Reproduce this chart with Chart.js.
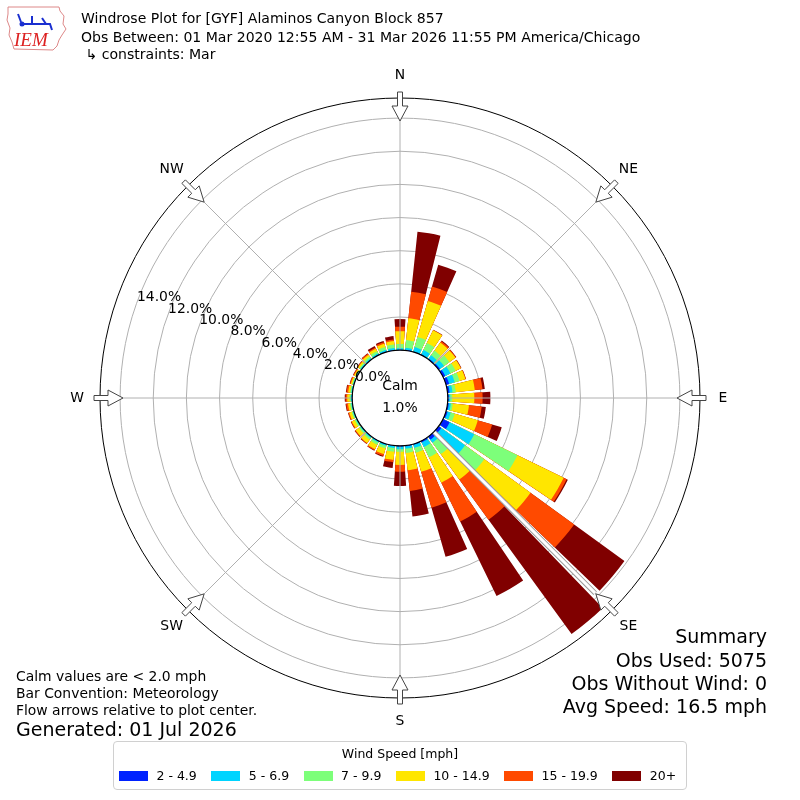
<!DOCTYPE html>
<html>
<head>
<meta charset="utf-8">
<script src="https://cdn.jsdelivr.net/npm/chart.js@4.4.1/dist/chart.umd.min.js"></script>
<style>
  html, body { margin: 0; padding: 0; background: #fff; }
  #wrap { position: relative; width: 800px; height: 800px; overflow: hidden;
          font-family: "DejaVu Sans", sans-serif; color: #000; }
  #rose { position: absolute; left: 0; top: 0; }
  .t { position: absolute; white-space: pre; line-height: 1; }
  #legend { position: absolute; left: 113px; top: 741px; width: 572px; height: 47px;
            border: 1px solid #d0d0d0; border-radius: 4px; background: #fff; }
  #legend .ttl { position: absolute; left: 0; right: 0; top: 4px; text-align: center; font-size: 12.5px; }
  #legend .row { position: absolute; left: 5px; top: 26px; width: 600px; display: flex; align-items: center;
                 font-size: 12.5px; white-space: nowrap; }
  #legend .sw { flex: 0 0 auto; width: 29px; height: 10px; margin-right: 8.5px; }
  #legend .lb { flex: 0 0 auto; margin-right: 14.5px; }
</style>
</head>
<body>
<div id="wrap">
  <canvas id="rose" width="800" height="800"></canvas>

  <svg style="position:absolute;left:2px;top:2px" width="66" height="50" viewBox="0 0 66 50">
    <path d="M6 5 L57 5 L58 9 L62 14 L61 22 L64 27 L60 33 L57 38 L55 44 L51 48 L12 47 L10 40 L7 33 L8 26 L5 18 L6 12 Z"
          fill="none" stroke="#d88" stroke-width="1"/>
    <g stroke="#1a2fd0" stroke-width="2" fill="none">
      <path d="M20 22 L48 22 L50 28"/>
      <path d="M30 14 L30 22"/>
      <path d="M40 16 L44 22"/>
      <path d="M16 12 L19 20"/>
    </g>
    <circle cx="20" cy="22" r="2.5" fill="#1a2fd0"/>
    <text x="12" y="44" font-family="Liberation Serif, serif" font-style="italic" font-size="19" fill="#d22">IEM</text>
  </svg>

  <div class="t" style="left:81px;top:11px;font-size:14.05px">Windrose Plot for [GYF] Alaminos Canyon Block 857</div>
  <div class="t" style="left:81px;top:30px;font-size:14.05px">Obs Between: 01 Mar 2020 12:55 AM - 31 Mar 2026 11:55 PM America/Chicago</div>
  <div class="t" style="left:81px;top:47px;font-size:14.05px"> ↳ constraints: Mar</div>

  <div class="t" style="left:16px;top:670px;font-size:13.9px">Calm values are &lt; 2.0 mph</div>
  <div class="t" style="left:16px;top:687px;font-size:13.9px">Bar Convention: Meteorology</div>
  <div class="t" style="left:16px;top:704px;font-size:13.9px">Flow arrows relative to plot center.</div>
  <div class="t" style="left:16px;top:720px;font-size:19px">Generated: 01 Jul 2026</div>

  <div class="t" style="right:33px;top:627px;font-size:19px;text-align:right">Summary</div>
  <div class="t" style="right:33px;top:651px;font-size:19px;text-align:right">Obs Used: 5075</div>
  <div class="t" style="right:33px;top:674px;font-size:19px;text-align:right">Obs Without Wind: 0</div>
  <div class="t" style="right:33px;top:697px;font-size:19px;text-align:right">Avg Speed: 16.5 mph</div>

  <div id="legend">
    <div class="ttl">Wind Speed [mph]</div>
    <div class="row" id="legendRow"></div>
  </div>
</div>

<script>
// wind directions (degrees, meteorological "from")
const directions = [0, 10, 20, 30, 40, 50, 60, 70, 80, 90, 100, 110, 120, 130, 140, 150, 160, 170,
                    180, 190, 200, 210, 220, 230, 240, 250, 260, 270, 280, 290, 300, 310, 320, 330, 340, 350];
const speedBins = ["2 - 4.9", "5 - 6.9", "7 - 9.9", "10 - 14.9", "15 - 19.9", "20+"];

// percent of observations per direction, one list per speed bin
const pct2to5 = [0.02, 0.04, 0.03, 0.05, 0.06, 0.10, 0.15, 0.20, 0.12, 0.06, 0.08, 0.10, 0.45, 0.20, 0.22, 0.10, 0.05, 0.05,
                 0.05, 0.03, 0.03, 0.03, 0.03, 0.02, 0.02, 0.02, 0.02, 0.02, 0.02, 0.02, 0.02, 0.02, 0.03, 0.03, 0.03, 0.03];
const pct5to7 = [0.10, 0.12, 0.28, 0.29, 0.24, 0.30, 0.35, 0.35, 0.18, 0.09, 0.12, 0.20, 1.65, 1.77, 0.23, 0.30, 0.20, 0.15,
                 0.16, 0.12, 0.09, 0.07, 0.07, 0.06, 0.05, 0.05, 0.05, 0.06, 0.05, 0.04, 0.04, 0.06, 0.07, 0.09, 0.11, 0.12];
const pct7to10 = [0.26, 0.47, 0.64, 0.47, 0.35, 0.40, 0.35, 0.30, 0.20, 0.12, 0.12, 0.25, 2.90, 1.43, 0.85, 0.70, 0.30, 0.25,
                  0.15, 0.23, 0.16, 0.15, 0.12, 0.10, 0.09, 0.08, 0.08, 0.08, 0.07, 0.06, 0.06, 0.08, 0.12, 0.14, 0.18, 0.21];
const pct10to15 = [0.77, 1.32, 2.25, 0.85, 0.60, 0.45, 0.35, 0.37, 1.15, 1.33, 0.98, 1.45, 3.10, 3.45, 1.90, 1.70, 1.20, 1.05,
                   0.80, 0.49, 0.35, 0.30, 0.26, 0.24, 0.19, 0.15, 0.12, 0.14, 0.12, 0.08, 0.08, 0.10, 0.13, 0.16, 0.20, 0.21];
const pct15to20 = [0.27, 1.61, 0.91, 0.02, 0.10, 0.05, 0.02, 0.03, 0.47, 0.50, 0.77, 0.90, 0.20, 3.25, 3.00, 2.60, 2.25, 1.25,
                   0.40, 0.14, 0.12, 0.07, 0.04, 0.05, 0.05, 0.06, 0.11, 0.10, 0.10, 0.06, 0.05, 0.04, 0.07, 0.08, 0.10, 0.10];
const pct20up = [0.46, 3.64, 1.37, 0.02, 0.05, 0.02, 0.02, 0.01, 0.14, 0.47, 0.25, 0.60, 0.08, 3.75, 8.52, 5.00, 3.08, 1.55,
                 0.86, 0.35, 0.05, 0.03, 0.03, 0.03, 0.02, 0.02, 0.04, 0.05, 0.04, 0.02, 0.02, 0.02, 0.03, 0.10, 0.07, 0.20];

const tickValues = [0, 2, 4, 6, 8, 10, 12, 14];
const compassLabels = ["N", "NE", "E", "SE", "S", "SW", "W", "NW"];
const calmText = "1.0%";

// styling
const binColors = ["#0022ff", "#00d4ff", "#7dff7a", "#ffe600", "#ff4a00", "#800000"];
const barDeg = 8, gapDeg = 2;
const calmPx = 47.8, pxPerPct = 16.58, plotRadius = 300;

const binSeries = [pct2to5, pct5to7, pct7to10, pct10to15, pct15to20, pct20up];

// legend
const legendRow = document.getElementById("legendRow");
speedBins.forEach((name, i) => {
  const sw = document.createElement("span");
  sw.className = "sw";
  sw.style.background = binColors[i];
  const lb = document.createElement("span");
  lb.className = "lb";
  lb.textContent = name;
  legendRow.appendChild(sw);
  legendRow.appendChild(lb);
});

// each bar slot is followed by a transparent gap slot
const labels = [];
directions.forEach((d) => { labels.push(d + "°", ""); });

// stacked look: draw cumulative sums, smallest bin on top
const datasets = binSeries.map((series, b) => {
  const data = [];
  directions.forEach((d, i) => {
    let sum = 0;
    for (let k = 0; k <= b; k++) sum += binSeries[k][i];
    data.push(+sum.toFixed(3), 0);
  });
  return {
    label: speedBins[b],
    data,
    backgroundColor: (c) => (c.dataIndex % 2 ? "rgba(0,0,0,0)" : binColors[b]),
    borderWidth: 0,
    angle: (c) => (c.dataIndex % 2 ? gapDeg : barDeg),
  };
});

const rMin = -calmPx / pxPerPct;
const rMax = (plotRadius - calmPx) / pxPerPct;

const roseDecor = {
  id: "roseDecor",
  afterDraw(chart) {
    const s = chart.scales.r;
    const ctx = chart.ctx;
    const cx = s.xCenter, cy = s.yCenter;
    const rIn = s.getDistanceFromCenterForValue(0);
    const rOut = s.drawingArea;
    const pt = (deg, r, p = 0) => {
      const a = deg * Math.PI / 180;
      return [cx + r * Math.sin(a) + p * Math.cos(a), cy - r * Math.cos(a) + p * Math.sin(a)];
    };
    ctx.save();

    // spokes every 45 degrees
    ctx.strokeStyle = "#b0b0b0";
    ctx.lineWidth = 1;
    for (let k = 0; k < 8; k++) {
      const a = pt(k * 45, rIn), b = pt(k * 45, rOut);
      ctx.beginPath(); ctx.moveTo(a[0], a[1]); ctx.lineTo(b[0], b[1]); ctx.stroke();
    }
    // hollow strip along SE
    {
      const a = pt(135, rIn), b = pt(135, rOut - 24);
      ctx.lineWidth = 5; ctx.strokeStyle = "#9a9a9a";
      ctx.beginPath(); ctx.moveTo(a[0], a[1]); ctx.lineTo(b[0], b[1]); ctx.stroke();
      ctx.lineWidth = 3; ctx.strokeStyle = "#ffffff";
      ctx.beginPath(); ctx.moveTo(a[0], a[1]); ctx.lineTo(b[0], b[1]); ctx.stroke();
    }

    // outer frame
    ctx.strokeStyle = "#000"; ctx.lineWidth = 1;
    ctx.beginPath(); ctx.arc(cx, cy, rOut, 0, Math.PI * 2); ctx.stroke();

    // calm disk
    ctx.fillStyle = "#fff";
    ctx.beginPath(); ctx.arc(cx, cy, rIn, 0, Math.PI * 2); ctx.fill();
    ctx.strokeStyle = "#000"; ctx.lineWidth = 1.2; ctx.stroke();

    // compass arrows pointing inward
    for (let k = 0; k < 8; k++) {
      const d = k * 45;
      const poly = [[rOut - 23, 0], [rOut - 8, 8], [rOut - 8, 2.5], [rOut + 6, 2.5],
                    [rOut + 6, -2.5], [rOut - 8, -2.5], [rOut - 8, -8]];
      ctx.beginPath();
      poly.forEach(([r, p], j) => {
        const q = pt(d, r, p);
        if (j === 0) ctx.moveTo(q[0], q[1]); else ctx.lineTo(q[0], q[1]);
      });
      ctx.closePath();
      ctx.fillStyle = "#fff"; ctx.fill();
      ctx.strokeStyle = "#444"; ctx.lineWidth = 1; ctx.stroke();
    }

    // compass labels
    ctx.fillStyle = "#000";
    ctx.font = '13.9px "DejaVu Sans"';
    ctx.textAlign = "center"; ctx.textBaseline = "middle";
    compassLabels.forEach((lab, k) => {
      const q = pt(k * 45, rOut + 23);
      ctx.fillText(lab, q[0], q[1]);
    });

    // radial tick labels
    ctx.textAlign = "left"; ctx.textBaseline = "alphabetic";
    tickValues.forEach((v) => {
      const q = pt(290, s.getDistanceFromCenterForValue(v));
      ctx.fillText(v.toFixed(1) + "%", q[0], q[1] - 1);
    });

    // calm text
    ctx.textAlign = "center"; ctx.textBaseline = "middle";
    ctx.fillText("Calm", cx, cy - 12);
    ctx.fillText(calmText, cx, cy + 10);

    ctx.restore();
  },
};

new Chart(document.getElementById("rose"), {
  type: "polarArea",
  data: { labels, datasets },
  options: {
    responsive: false,
    animation: false,
    devicePixelRatio: 1,
    layout: { padding: { left: 100, right: 100, top: 98, bottom: 102 } },
    plugins: { legend: { display: false }, title: { display: false }, tooltip: { enabled: false } },
    scales: {
      r: {
        min: rMin,
        max: rMax,
        startAngle: -barDeg / 2,
        z: 1,
        ticks: { display: false },
        grid: { color: "#b0b0b0", lineWidth: 1, circular: true },
        angleLines: { display: false },
        pointLabels: { display: false },
        afterBuildTicks: (scale) => {
          scale.ticks = tickValues.map((v) => ({ value: v }));
        },
      },
    },
  },
  plugins: [roseDecor],
});
</script>
</body>
</html>
